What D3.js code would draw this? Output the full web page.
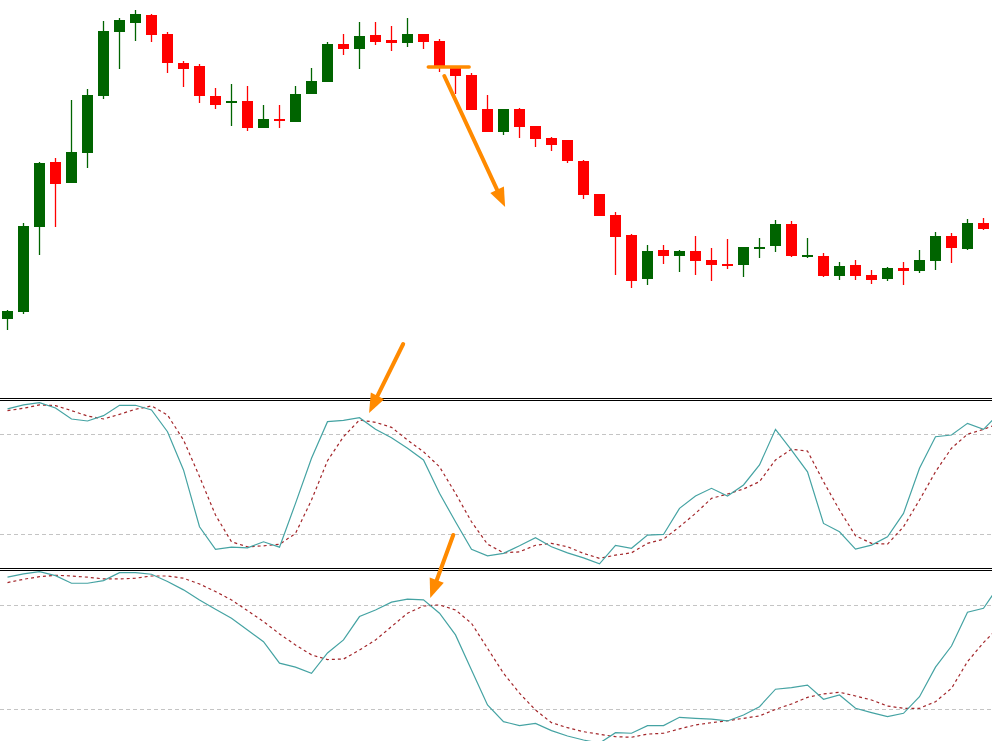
<!DOCTYPE html>
<html>
<head>
<meta charset="utf-8">
<script src="https://cdn.jsdelivr.net/npm/d3@7"></script>
<style>
body { margin: 0; background: #fff; }
svg { display: block; }
</style>
</head>
<body>
<svg id="chart" width="992" height="741"></svg>
<script>
// price candles (arbitrary price units)
var opens  = [681,688,773,838,817,847,904,968,977,985,966,937,934,904,897,899,872,881,878,906,918,956,951,965,960,957,966,959,932,925,891,868,891,874,862,860,839,806,785,765,721,750,744,749,740,736,735,752,754,776,744,744,724,735,725,721,732,729,739,764,751,777];
var highs  = [690,777,838,842,900,911,979,982,990,986,968,939,936,912,916,914,895,895,914,932,958,966,978,978,974,982,966,961,934,927,905,891,892,874,863,860,840,806,788,766,755,755,750,764,752,761,753,762,780,779,762,747,738,740,730,733,738,750,768,767,781,782];
var lows   = [670,686,745,773,817,832,901,931,959,958,927,913,897,891,874,869,872,872,878,906,918,945,931,955,949,953,951,928,906,890,868,865,862,853,849,837,801,784,725,712,715,736,728,725,719,731,723,742,748,743,742,723,720,720,716,719,715,727,730,737,750,770];
var closes = [689,774,837,816,848,905,969,980,986,965,937,931,904,895,899,872,881,879,906,919,956,951,964,958,957,966,958,934,924,890,868,891,873,861,855,839,805,784,763,719,749,744,749,739,735,735,753,753,776,744,745,724,734,724,720,732,729,740,764,752,777,771];

// stochastic #1 (fast)
var stoch1Main = [95.0,97.4,98.8,95.6,89.0,87.8,91.0,97.2,97.2,94.4,81.4,58.5,24.5,11.0,12.3,11.9,15.5,12.3,38.5,65.5,87.4,88.2,89.8,82.8,77.8,71.5,64.5,44.5,27.5,11.0,7.1,8.6,13.1,17.9,12.5,8.9,5.9,2.3,13.4,11.6,19.5,19.9,35.5,42.9,47.5,42.9,49.5,61.5,82.8,70.4,57.4,26.5,21.5,11.1,13.5,18.5,32.5,59.5,78.4,79.4,86.4,82.8,92.6];
var stoch1Sig  = [94.0,95.4,97.4,97.0,94.0,90.8,89.0,91.8,94.8,96.8,91.4,76.4,54.5,31.5,15.5,12.5,13.1,14.0,20.5,40.5,64.0,78.4,88.4,87.0,84.0,76.4,69.4,60.4,44.5,27.5,14.1,8.9,9.5,13.4,14.6,12.5,8.6,5.6,7.5,8.9,14.6,17.1,24.5,32.5,41.5,44.1,47.1,51.5,64.5,70.9,69.8,51.5,34.5,19.1,14.6,14.1,24.5,40.5,57.4,71.5,79.9,82.8,86.4];

// stochastic #2 (slow)
var stoch2Main = [96.2,98.1,99.4,97.1,92.7,92.7,94.2,98.8,98.8,97.9,93.7,88.9,83.1,77.7,72.5,65.8,59.0,46.6,44.3,40.8,52.5,60.0,73.5,77.3,81.8,83.5,83.1,75.4,62.9,42.7,22.5,12.9,10.6,11.9,7.7,4.6,2.3,0.5,6.5,6.2,10.6,10.6,15.4,14.8,14.4,13.3,16.7,21.5,31.6,32.5,34.0,25.8,28.3,20.6,18.1,15.8,17.7,27.3,44.3,56.5,76.0,78.3,91.7];
var stoch2Sig  = [93.1,95.0,96.5,97.3,96.9,96.2,95.2,95.2,95.6,96.9,96.9,95.6,92.3,87.9,83.1,76.9,70.6,63.5,57.1,51.4,48.7,49.0,54.2,60.0,67.7,75.4,79.6,80.2,77.3,69.6,55.2,40.8,29.3,19.6,12.3,9.4,7.1,5.6,4.2,3.9,5.7,6.2,8.7,11.0,12.3,13.4,14.8,16.2,20.0,23.1,26.9,28.9,29.8,27.7,25.4,21.9,20.6,20.6,24.4,32.1,47.5,58.5,67.7];

var levels = [80, 20];

// annotations: [bar index, panel, value]
var arrowFrom = [[27.3, "price", 924], [24.73, "price", 656], [27.86, "s1", 19.6]];
var arrowTo   = [[31.1, "price", 793], [22.6, "s1", 92.6], [26.42, "s2", 84.2]];
var breakLine = [26.3, 28.85, 933];

var green = "#006400", red = "#ff0000", orange = "#ff8a00";
var mainColor = "#45a3a3", sigColor = "#a3262a";

var svg = d3.select("#chart");

var x = d3.scaleLinear().domain([0, 61]).range([7.5, 983.5]);
var yP = d3.scaleLinear().domain([602, 1000]).range([398, 0]);
var y1 = d3.scaleLinear().domain([0, 100]).range([567.7, 400.6]);
var y2 = d3.scaleLinear().domain([0, 100]).range([744, 570.6]);
var scales = {price: yP, s1: y1, s2: y2};

// candles
var bars = d3.range(opens.length);
var cg = svg.append("g");
cg.selectAll(".wick").data(bars).enter().append("line")
  .attr("class", "wick")
  .attr("x1", function(i){ return x(i); })
  .attr("x2", function(i){ return x(i); })
  .attr("y1", function(i){ return yP(highs[i]); })
  .attr("y2", function(i){ return yP(lows[i]); })
  .attr("stroke", function(i){ return closes[i] >= opens[i] ? green : red; })
  .attr("stroke-width", 1.3);
cg.selectAll(".body").data(bars).enter().append("rect")
  .attr("class", "body")
  .attr("x", function(i){ return x(i) - 5.5; })
  .attr("width", 11)
  .attr("y", function(i){ return yP(Math.max(opens[i], closes[i])); })
  .attr("height", function(i){ return Math.max(2, Math.abs(yP(opens[i]) - yP(closes[i]))); })
  .attr("fill", function(i){ return closes[i] >= opens[i] ? green : red; });

// panel separators
[398.5, 400.5, 568.5, 570.5].forEach(function(yy){
  svg.append("line").attr("x1", 0).attr("x2", 992).attr("y1", yy).attr("y2", yy)
    .attr("stroke", "#000").attr("stroke-width", 1);
});

function drawStoch(mainVals, sigVals, ys) {
  var g = svg.append("g");
  levels.forEach(function(l){
    g.append("line").attr("x1", 0).attr("x2", 992)
      .attr("y1", Math.round(ys(l)) + 0.5).attr("y2", Math.round(ys(l)) + 0.5)
      .attr("stroke", "#c4c4c4").attr("stroke-dasharray", "4,3");
  });
  var line = d3.line().x(function(d, i){ return x(i); }).y(function(d){ return ys(d); });
  g.append("path").datum(sigVals).attr("d", line)
    .attr("fill", "none").attr("stroke", sigColor).attr("stroke-width", 1.2)
    .attr("stroke-dasharray", "3,3");
  g.append("path").datum(mainVals).attr("d", line)
    .attr("fill", "none").attr("stroke", mainColor).attr("stroke-width", 1.2);
}
drawStoch(stoch1Main, stoch1Sig, y1);
drawStoch(stoch2Main, stoch2Sig, y2);

// orange annotations
var ag = svg.append("g");
ag.append("line")
  .attr("x1", x(breakLine[0])).attr("x2", x(breakLine[1]))
  .attr("y1", yP(breakLine[2])).attr("y2", yP(breakLine[2]))
  .attr("stroke", orange).attr("stroke-width", 3.5).attr("stroke-linecap", "round");

arrowFrom.forEach(function(f, k){
  var t = arrowTo[k];
  var x1 = x(f[0]), yy1 = scales[f[1]](f[2]);
  var x2 = x(t[0]), yy2 = scales[t[1]](t[2]);
  var dx = x2 - x1, dy = yy2 - yy1, len = Math.sqrt(dx*dx + dy*dy);
  var ux = dx/len, uy = dy/len, head = 19, half = 7.5;
  var bx = x2 - ux*head, by = yy2 - uy*head;
  ag.append("line").attr("x1", x1).attr("y1", yy1).attr("x2", bx + ux*2).attr("y2", by + uy*2)
    .attr("stroke", orange).attr("stroke-width", 4).attr("stroke-linecap", "round");
  ag.append("path")
    .attr("d", "M" + x2 + "," + yy2 + "L" + (bx - uy*half) + "," + (by + ux*half) +
               "L" + (bx + uy*half) + "," + (by - ux*half) + "Z")
    .attr("fill", orange);
});
</script>
</body>
</html>
